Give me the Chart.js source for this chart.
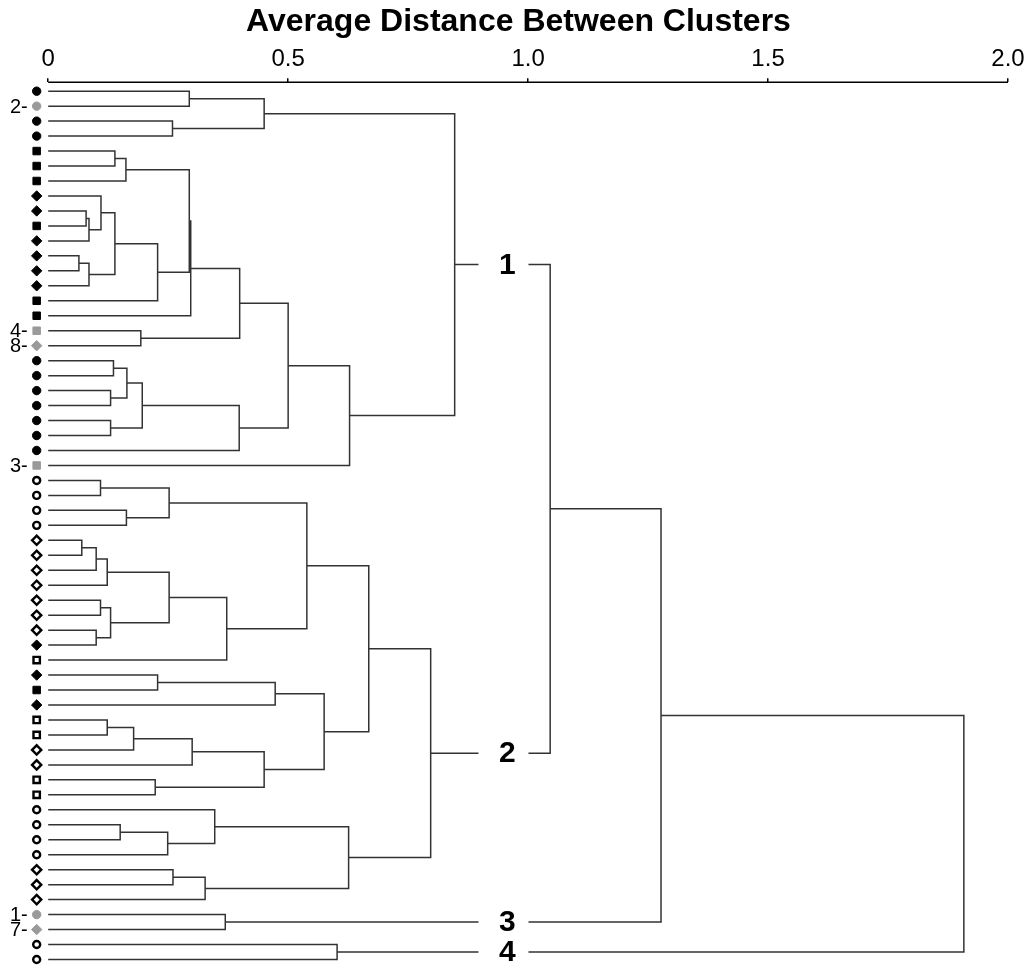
<!DOCTYPE html>
<html>
<head>
<meta charset="utf-8">
<script src="https://cdn.jsdelivr.net/npm/chart.js@4.4.1/dist/chart.umd.min.js"></script>
<style>
  html, body { margin: 0; padding: 0; background: #fff; }
</style>
</head>
<body>
<canvas id="dendro" width="1035" height="971"></canvas>
<script>
// leaf markers, top to bottom
const leafMarks = [
  "●", "●", "●", "●", "■", "■", "■", "◆", "◆", "■",
  "◆", "◆", "◆", "◆", "■", "■", "■", "◆", "●", "●",
  "●", "●", "●", "●", "●", "■", "○", "○", "○", "○",
  "◇", "◇", "◇", "◇", "◇", "◇", "◇", "◆", "□", "◆",
  "■", "◆", "□", "□", "◇", "◇", "□", "□", "○", "○",
  "○", "○", "◇", "◇", "◇", "●", "◆", "○", "○"
];
// grey leaves and their tags
const greyLeaves = [1, 16, 17, 25, 55, 56];
const greyTags = ["2-", "4-", "8-", "3-", "1-", "7-"];

// linkage rows: [left, right, height]; leaves are 0..58, row k makes node 59 + k
const linkage = [
  [0, 1, 0.294], [2, 3, 0.259], [59, 60, 0.450],
  [4, 5, 0.139], [62, 6, 0.162],
  [8, 9, 0.079], [64, 10, 0.085], [7, 65, 0.110],
  [11, 12, 0.064], [67, 13, 0.085], [66, 68, 0.139],
  [69, 14, 0.228], [63, 70, 0.294], [71, 15, 0.297],
  [16, 17, 0.193], [72, 73, 0.399],
  [18, 19, 0.136], [20, 21, 0.130], [75, 76, 0.164],
  [22, 23, 0.130], [77, 78, 0.196], [79, 24, 0.398],
  [74, 80, 0.500], [81, 25, 0.628], [61, 82, 0.847],
  [26, 27, 0.109], [28, 29, 0.163], [84, 85, 0.252],
  [30, 31, 0.070], [87, 32, 0.100], [88, 33, 0.123],
  [34, 35, 0.109], [36, 37, 0.100], [90, 91, 0.130],
  [89, 92, 0.252], [93, 38, 0.372], [86, 94, 0.539],
  [39, 40, 0.228], [96, 41, 0.473],
  [42, 43, 0.123], [98, 44, 0.178], [99, 45, 0.300],
  [46, 47, 0.223], [100, 101, 0.450], [97, 102, 0.575],
  [95, 103, 0.668],
  [49, 50, 0.150], [105, 51, 0.249], [48, 106, 0.347],
  [52, 53, 0.260], [108, 54, 0.327], [107, 109, 0.626],
  [104, 110, 0.797],
  [55, 56, 0.369], [57, 58, 0.602],
  [83, 111, 1.046], [114, 112, 1.277], [115, 113, 1.908]
];

const clusterNodes = [83, 111, 112, 113];
const clusterNames = ["1", "2", "3", "4"];

const xTicks = [0, 0.5, 1.0, 1.5, 2.0];

const markerX = -0.024;
const clusterLabelX = 0.957;
const FONT = "'Liberation Sans', Arial, Helvetica, sans-serif";

// node positions: leaves sit on their row, merges halfway between children
const nodeY = leafMarks.map((m, i) => i);
const nodeH = leafMarks.map(() => 0);
linkage.forEach(([a, b, h]) => {
  nodeY.push((nodeY[a] + nodeY[b]) / 2);
  nodeH.push(h);
});

const linkSets = linkage.map(([a, b, h]) => ({
  data: [
    { x: nodeH[a], y: nodeY[a] },
    { x: h, y: nodeY[a] },
    { x: h, y: nodeY[b] },
    { x: nodeH[b], y: nodeY[b] }
  ],
  showLine: true,
  borderColor: "#333",
  borderWidth: 1.5,
  pointRadius: 0,
  fill: false
}));

const shapeOf = { "●": "circle", "○": "circle", "■": "rect", "□": "rect", "◆": "rectRot", "◇": "rectRot" };
const isOpen = m => "○□◇".includes(m);
const radiusOf = m => {
  if (shapeOf[m] === "circle") return isOpen(m) ? 3.5 : 4.2;
  if (shapeOf[m] === "rect") return isOpen(m) ? 4.5 : 5.3;
  return isOpen(m) ? 4.6 : 5.2;
};
const colourOf = i => greyLeaves.includes(i) ? "#9a9a9a" : "#000";

const markerSet = {
  data: leafMarks.map((m, i) => ({ x: markerX, y: i })),
  showLine: false,
  pointStyle: leafMarks.map(m => shapeOf[m]),
  pointRadius: leafMarks.map(radiusOf),
  pointBorderWidth: leafMarks.map(m => isOpen(m) ? 2.4 : 1),
  pointBackgroundColor: leafMarks.map((m, i) => isOpen(m) ? "#fff" : colourOf(i)),
  pointBorderColor: leafMarks.map((m, i) => colourOf(i)),
  clip: false
};

const decor = {
  id: "decor",
  afterDatasetsDraw(chart) {
    const { ctx, chartArea, scales: { x, y } } = chart;
    ctx.save();
    // axis line only over 0..2
    ctx.strokeStyle = "#000";
    ctx.lineWidth = 1.5;
    ctx.beginPath();
    ctx.moveTo(x.getPixelForValue(xTicks[0]), chartArea.top);
    ctx.lineTo(x.getPixelForValue(xTicks[xTicks.length - 1]), chartArea.top);
    ctx.stroke();

    // tags beside the grey leaves
    ctx.fillStyle = "#000";
    ctx.font = "20px " + FONT;
    ctx.textAlign = "right";
    ctx.textBaseline = "middle";
    greyLeaves.forEach((leaf, k) => {
      ctx.fillText(greyTags[k], x.getPixelForValue(markerX) - 9, y.getPixelForValue(leaf) + 1);
    });

    // cluster numbers sitting on their branches
    ctx.font = "bold 30px " + FONT;
    ctx.textAlign = "center";
    clusterNodes.forEach((node, k) => {
      const px = x.getPixelForValue(clusterLabelX);
      const py = y.getPixelForValue(nodeY[node]);
      ctx.fillStyle = "#fff";
      ctx.fillRect(px - 29, py - 13, 50, 26);
      ctx.fillStyle = "#000";
      ctx.fillText(clusterNames[k], px, py + 1);
    });
    ctx.restore();
  }
};

new Chart(document.getElementById("dendro"), {
  type: "scatter",
  data: { datasets: [...linkSets, markerSet] },
  plugins: [decor],
  options: {
    responsive: false,
    animation: false,
    layout: { padding: { top: 3, left: 29, right: 27, bottom: 0 } },
    plugins: {
      legend: { display: false },
      tooltip: { enabled: false },
      title: {
        display: true,
        text: "Average Distance Between Clusters",
        color: "#000",
        font: { family: FONT, size: 32, weight: "bold" },
        padding: { top: 0, bottom: 0 }
      }
    },
    scales: {
      x: {
        type: "linear",
        position: "top",
        min: -0.04,
        max: 2.0,
        afterBuildTicks: s => { s.ticks = xTicks.map(v => ({ value: v })); },
        ticks: {
          color: "#000",
          font: { family: FONT, size: 24 },
          padding: 4,
          maxRotation: 0,
          autoSkip: false,
          callback: v => v === 0 ? "0" : v.toFixed(1)
        },
        grid: { display: true, drawOnChartArea: false, drawTicks: true, tickLength: 4, color: "#000", lineWidth: 1.5 },
        border: { display: false }
      },
      y: { type: "linear", display: false, reverse: true, min: -0.6, max: 58.3 }
    }
  }
});
</script>
</body>
</html>
